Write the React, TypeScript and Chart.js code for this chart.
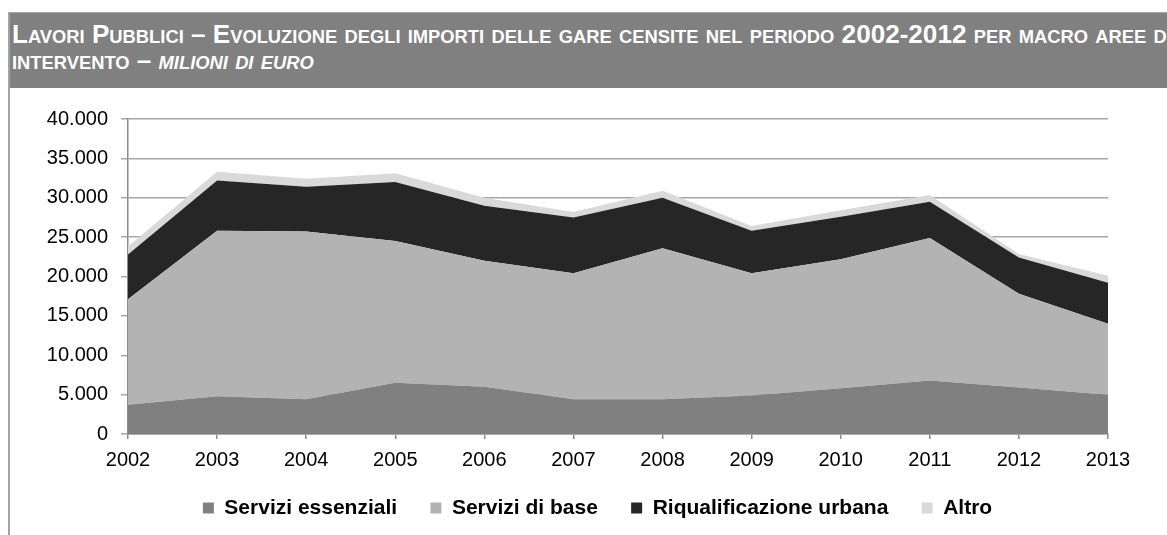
import React, { useEffect, useRef } from 'react';
import { Chart, registerables } from 'chart.js';

Chart.register(...registerables);

const years = ['2002', '2003', '2004', '2005', '2006', '2007', '2008', '2009', '2010', '2011', '2012', '2013'];
const serviziEssenziali = [3700, 4800, 4400, 6500, 6000, 4400, 4400, 4900, 5800, 6800, 5900, 5000];
const serviziDiBase = [13400, 21000, 21300, 18000, 16000, 16000, 19200, 15500, 16400, 18100, 11900, 9000];
const riqualificazioneUrbana = [5700, 6400, 5700, 7500, 7000, 7100, 6400, 5400, 5400, 4600, 4600, 5200];
const altro = [1000, 1100, 1000, 1100, 1000, 700, 900, 600, 800, 850, 460, 900];

const seriesNames = ['Servizi essenziali', 'Servizi di base', 'Riqualificazione urbana', 'Altro'];
const seriesColors = ['#808080', '#b3b3b3', '#262626', '#d9d9d9'];
const yTickValues = [0, 5000, 10000, 15000, 20000, 25000, 30000, 35000, 40000];

const titleLine1 = 'Lavori Pubblici \u2013 Evoluzione degli importi delle gare censite nel periodo 2002-2012 per macro aree di';
const titleLine2a = 'intervento \u2013 ';
const titleLine2b = 'milioni di euro';

const FONT = "'Liberation Sans', Arial, Helvetica, sans-serif";

function fmt(v: number): string {
  return String(v).replace(/\B(?=(\d{3})+(?!\d))/g, '.');
}

function smallCaps(text: string, big: number, small: number, italic = false) {
  const runs: { t: string; s: boolean }[] = [];
  for (const ch of text) {
    const isSmall = ch >= 'a' && ch <= 'z';
    const last = runs[runs.length - 1];
    if (last && last.s === isSmall) last.t += ch;
    else runs.push({ t: ch, s: isSmall });
  }
  return runs.map((r, i) => (
    <span
      key={i}
      style={{ fontSize: r.s ? small : big, fontStyle: italic ? 'italic' : 'normal' }}
    >
      {r.s ? r.t.toUpperCase() : r.t}
    </span>
  ));
}

const noClip = (s: any) => {
  s._computeLabelArea = () => undefined;
};

export default function App() {
  const ref = useRef<HTMLCanvasElement | null>(null);

  useEffect(() => {
    if (!ref.current) return;
    const data = [serviziEssenziali, serviziDiBase, riqualificazioneUrbana, altro];
    const chart = new Chart(ref.current, {
      type: 'line',
      data: {
        labels: years,
        datasets: data.map((d, i) => ({
          label: seriesNames[i],
          data: d,
          backgroundColor: seriesColors[i],
          borderColor: 'rgba(0,0,0,0)',
          borderWidth: 0,
          pointRadius: 0,
          pointHoverRadius: 0,
          tension: 0,
          fill: i === 0 ? 'origin' : '-1',
        })),
      },
      options: {
        animation: false,
        responsive: false,
        maintainAspectRatio: false,
        events: [],
        layout: { padding: { left: 77, right: 59, top: 29, bottom: 6.5 } },
        plugins: {
          tooltip: { enabled: false },
          legend: {
            position: 'bottom',
            labels: {
              boxWidth: 11,
              boxHeight: 11,
              padding: 33.3,
              color: '#000',
              font: { family: FONT, size: 21, weight: 'bold' },
              generateLabels: (c: any) =>
                c.data.datasets.map((ds: any, i: number) => ({
                  text: ds.label,
                  fillStyle: seriesColors[i],
                  strokeStyle: seriesColors[i],
                  lineWidth: 0,
                  hidden: false,
                  datasetIndex: i,
                  fontColor: '#000',
                })),
            },
          },
        },
        scales: {
          x: {
            offset: false,
            grid: {
              display: true,
              drawOnChartArea: false,
              drawTicks: true,
              tickLength: 5,
              color: '#8c8c8c',
              lineWidth: 1.5,
            },
            border: { display: true, color: '#8c8c8c', width: 1.5 },
            ticks: {
              color: '#000',
              font: { family: FONT, size: 20 },
              padding: 9,
              maxRotation: 0,
              autoSkip: false,
            },
            afterFit: (s: any) => {
              s.height = 30.2;
              noClip(s);
            },
          },
          y: {
            stacked: true,
            min: 0,
            max: 40000,
            grid: { color: '#a6a6a6', lineWidth: 1.5, tickLength: 7 },
            border: { display: true, color: '#8c8c8c', width: 1.5 },
            ticks: {
              color: '#000',
              font: { family: FONT, size: 20 },
              padding: 13,
              callback: (v: any) => fmt(Number(v)),
            },
            afterBuildTicks: (s: any) => {
              s.ticks = yTickValues.map((v) => ({ value: v }));
            },
            afterFit: (s: any) => {
              s.width = 41;
              noClip(s);
            },
          },
        },
      },
    } as any);
    return () => chart.destroy();
  }, []);

  return (
    <div
      style={{
        position: 'absolute',
        left: 0,
        top: 0,
        width: 1167,
        height: 535,
        overflow: 'hidden',
        background: '#fff',
        fontFamily: FONT,
      }}
    >
      <div
        style={{
          position: 'absolute',
          left: 8,
          top: 12,
          width: 1200,
          height: 600,
          borderLeft: '2px solid #a3a3a3',
          borderTop: '1px solid #a6a6a6',
        }}
      />
      <div
        style={{
          position: 'absolute',
          left: 10,
          top: 13,
          width: 1200,
          height: 75,
          background: '#808080',
        }}
      />
      <div
        style={{
          position: 'absolute',
          left: 12,
          top: 19,
          whiteSpace: 'nowrap',
          color: '#fff',
          fontWeight: 'bold',
          fontSize: 26.1,
          lineHeight: '30px',
        }}
      >
        {smallCaps(titleLine1, 26.1, 18.35)}
      </div>
      <div
        style={{
          position: 'absolute',
          left: 12,
          top: 45,
          whiteSpace: 'nowrap',
          color: '#fff',
          fontWeight: 'bold',
          fontSize: 26.1,
          lineHeight: '30px',
        }}
      >
        {smallCaps(titleLine2a, 26.1, 18.35)}
        {smallCaps(titleLine2b, 26.1, 18.35, true)}
      </div>
      <canvas
        ref={ref}
        width={1157}
        height={445}
        style={{ position: 'absolute', left: 10, top: 90, width: 1157, height: 445 }}
      />
    </div>
  );
}
